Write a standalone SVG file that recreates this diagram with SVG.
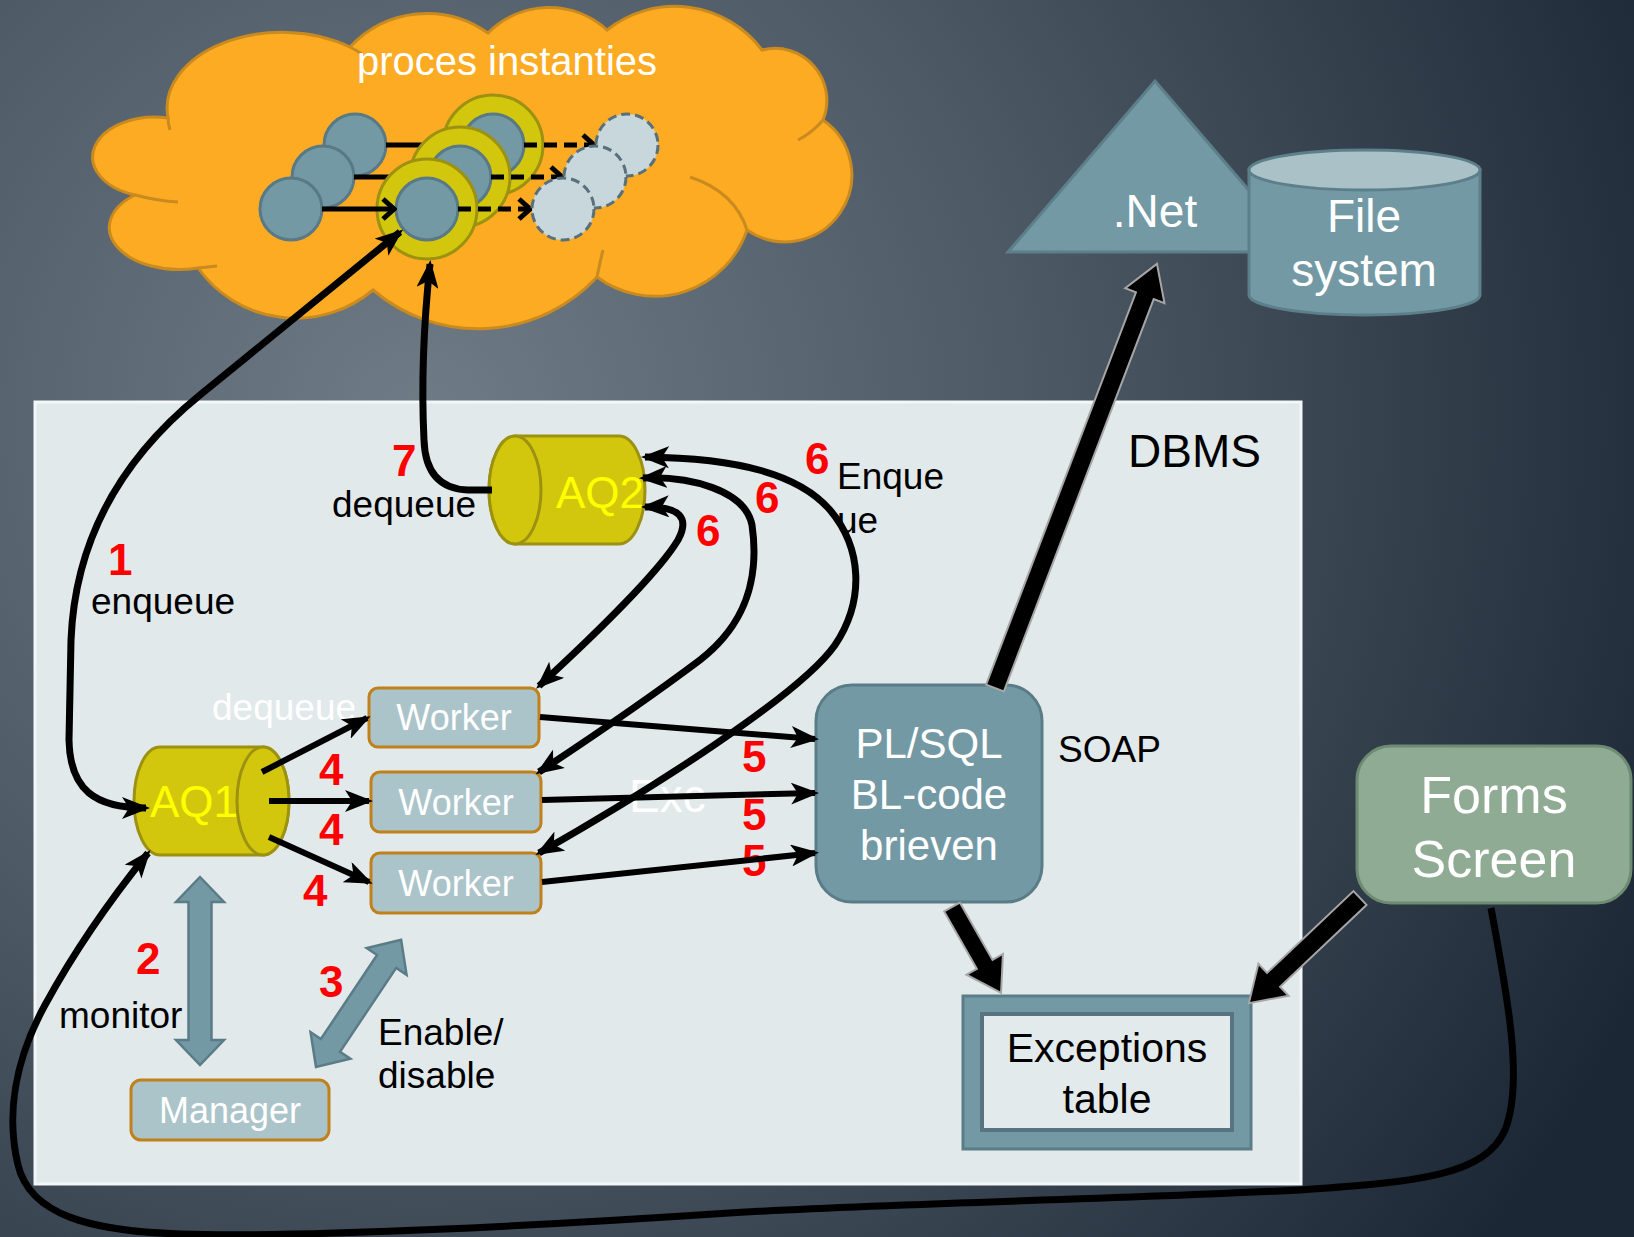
<svg xmlns="http://www.w3.org/2000/svg" width="1634" height="1237" viewBox="0 0 1634 1237">
<defs>
<radialGradient id="bg" cx="420" cy="420" r="1350" gradientUnits="userSpaceOnUse">
<stop offset="0" stop-color="#6f7b85"/>
<stop offset="0.45" stop-color="#4d5965"/>
<stop offset="1" stop-color="#1b2734"/>
</radialGradient>
<marker id="ah" viewBox="0 0 28 22" markerWidth="28" markerHeight="22" refX="24" refY="11" orient="auto-start-reverse" markerUnits="userSpaceOnUse">
<path d="M0,0 L28,11 L0,22 L7,11 z" fill="#000"/>
</marker>
<marker id="chev" viewBox="0 0 16 24" markerWidth="16" markerHeight="24" refX="13" refY="12" orient="auto" markerUnits="userSpaceOnUse">
<path d="M2,2 L13,12 L2,22" fill="none" stroke="#000" stroke-width="5"/>
</marker>
</defs>
<style>
text{font-family:"Liberation Sans",Arial,sans-serif}
.lbl{font-size:37px;fill:#000}
.num{font-size:44px;font-weight:bold;fill:#f00}
.wh{fill:#fff}
.cyl{fill:#d2c70c;stroke:#9c9110;stroke-width:3}
.aq{font-size:44px;fill:#ffff00}
.box{fill:#abc4ca;stroke:#c0801a;stroke-width:3}
.btx{font-size:36px;fill:#fff}
.teal{fill:#7399a5;stroke:#5a7c87;stroke-width:3}
.ln{fill:none;stroke:#000;stroke-width:6}
.cv{fill:none;stroke:#000;stroke-width:7}
.fat{fill:#000;stroke:#a6a6a6;stroke-width:2}
.dbl{fill:#7399a5;stroke:#5a7c87;stroke-width:2.5}
.pc{fill:#7399a5;stroke:#587985;stroke-width:3}
.ring{fill:#d2c70c;stroke:#9c9110;stroke-width:3}
.ghost{fill:#c7d7dc;stroke:#58707c;stroke-width:3;stroke-dasharray:9,5}
.sl{fill:none;stroke:#000;stroke-width:5}
.dash{fill:none;stroke:#000;stroke-width:5;stroke-dasharray:13,7}
</style>
<rect x="0" y="0" width="1634" height="1237" fill="url(#bg)"/>

<g id="cloud">
<path d="M168,118 A115,76 0 0 1 350,47 A105,105 0 0 1 488,33 A86,86 0 0 1 607,30 A109,109 0 0 1 762,50 A52,52 0 0 1 823,120 A64,64 0 0 1 747,230 A97,97 0 0 1 597,277 A162,162 0 0 1 373,290 A120,120 0 0 1 198,268 A70,42 0 0 1 135,195 A62,40 0 0 1 168,118 Z" fill="#fdab22" stroke="#c98a1f" stroke-width="3"/>
<path d="M690,177 Q735,192 747,230 M135,195 Q158,201 178,202 M198,268 Q208,267 217,266 M597,277 Q600,262 603,250 M350,47 Q356,50 362,54 M168,118 Q168,123 170,130 M823,120 Q812,133 798,140" fill="none" stroke="#c98a1f" stroke-width="3"/>
<text x="507" y="75" text-anchor="middle" class="wh" font-size="40">proces instanties</text>
</g>

<g id="instances">
<circle class="pc" cx="355" cy="145" r="31"/>
<line class="sl" x1="386" y1="145" x2="450" y2="145"/>
<circle class="ring" cx="493" cy="145" r="50"/>
<circle class="pc" cx="493" cy="145" r="31"/>
<line class="dash" x1="524" y1="145" x2="594" y2="145" marker-end="url(#chev)"/>
<circle class="ghost" cx="627" cy="145" r="31"/>

<circle class="pc" cx="323" cy="177" r="31"/>
<line class="sl" x1="354" y1="177" x2="420" y2="177"/>
<circle class="ring" cx="460" cy="177" r="50"/>
<circle class="pc" cx="460" cy="177" r="31"/>
<line class="dash" x1="491" y1="177" x2="562" y2="177" marker-end="url(#chev)"/>
<circle class="ghost" cx="595" cy="177" r="31"/>

<circle class="pc" cx="291" cy="209" r="31"/>
<circle class="ring" cx="427" cy="209" r="50"/>
<circle class="pc" cx="427" cy="209" r="31"/>
<line class="sl" x1="322" y1="209" x2="394" y2="209" marker-end="url(#chev)"/>
<line class="dash" x1="458" y1="209" x2="530" y2="209" marker-end="url(#chev)"/>
<circle class="ghost" cx="563" cy="209" r="31"/>
</g>

<g id="dotnet">
<polygon points="1155,81 1302,252 1008,252" fill="#7399a5" stroke="#5c7f8a" stroke-width="3"/>
<text x="1155" y="227" text-anchor="middle" class="wh" font-size="46">.Net</text>
</g>

<g id="filesystem">
<path d="M1249,170 V295 A115.5,20 0 0 0 1480,295 V170 Z" fill="#7399a5" stroke="#5c7f8a" stroke-width="3"/>
<ellipse cx="1364.5" cy="170" rx="115.5" ry="20" fill="#a9c1c7" stroke="#5c7f8a" stroke-width="3"/>
<text x="1364" y="232" text-anchor="middle" class="wh" font-size="46">File</text>
<text x="1364" y="286" text-anchor="middle" class="wh" font-size="46">system</text>
</g>

<g id="dbms">
<rect x="35" y="402" width="1266" height="782" fill="#e2e9eb" stroke="#f4f7f8" stroke-width="3"/>
<text x="1128" y="467" font-size="46" fill="#000">DBMS</text>
</g>

<g id="aq2">
<path class="cyl" d="M515,436 H619 A26,54 0 0 1 619,544 H515 A26,54 0 0 1 515,436 Z"/>
<ellipse class="cyl" cx="515" cy="490" rx="26" ry="54"/>
<text x="600" y="508" text-anchor="middle" class="aq">AQ2</text>
</g>

<g id="aq1">
<path class="cyl" d="M160,747 H263 A26,54 0 0 1 263,855 H160 A26,54 0 0 1 160,747 Z"/>
<ellipse class="cyl" cx="263" cy="801" rx="26" ry="54"/>
<text x="194" y="817" text-anchor="middle" class="aq">AQ1</text>
</g>

<g id="worker1">
<rect class="box" x="369" y="688" width="170" height="59" rx="9"/>
<text x="454" y="730" text-anchor="middle" class="btx">Worker</text>
</g>
<g id="worker2">
<rect class="box" x="371" y="772" width="170" height="60" rx="9"/>
<text x="456" y="815" text-anchor="middle" class="btx">Worker</text>
</g>
<g id="worker3">
<rect class="box" x="371" y="853" width="170" height="60" rx="9"/>
<text x="456" y="896" text-anchor="middle" class="btx">Worker</text>
</g>

<g id="manager">
<rect class="box" x="131" y="1080" width="198" height="60" rx="10"/>
<text x="230" y="1123" text-anchor="middle" class="btx" font-size="37">Manager</text>
</g>

<g id="plsql">
<rect class="teal" x="816" y="685" width="226" height="217" rx="36"/>
<text x="929" y="758" text-anchor="middle" class="wh" font-size="42">PL/SQL</text>
<text x="929" y="809" text-anchor="middle" class="wh" font-size="42">BL-code</text>
<text x="929" y="860" text-anchor="middle" class="wh" font-size="42">brieven</text>
</g>

<g id="exceptions">
<rect x="963" y="996" width="288" height="153" fill="#7399a5" stroke="#5b7d88" stroke-width="3"/>
<rect x="982" y="1014" width="250" height="116" fill="#e3eaec" stroke="#577480" stroke-width="4"/>
<text x="1107" y="1062" text-anchor="middle" font-size="41" fill="#000">Exceptions</text>
<text x="1107" y="1113" text-anchor="middle" font-size="41" fill="#000">table</text>
</g>

<g id="forms">
<rect x="1357" y="746" width="274" height="157" rx="34" fill="#8fab93" stroke="#6d8a72" stroke-width="3"/>
<text x="1494" y="813" text-anchor="middle" class="wh" font-size="52">Forms</text>
<text x="1494" y="877" text-anchor="middle" class="wh" font-size="52">Screen</text>
</g>

<g id="labels">
<text class="num" x="108" y="575">1</text>
<text class="lbl" x="91" y="614">enqueue</text>
<text class="num" x="392" y="476">7</text>
<text class="lbl" x="332" y="517">dequeue</text>
<text class="num" x="805" y="474">6</text>
<text class="num" x="755" y="513">6</text>
<text class="num" x="696" y="546">6</text>
<text class="lbl" x="837" y="489">Enque</text>
<text class="lbl" x="837" y="533">ue</text>
<text class="wh" x="212" y="720" font-size="37">dequeue</text>
<text class="wh" x="629" y="812" font-size="46">Exc</text>
<text class="num" x="319" y="785">4</text>
<text class="num" x="319" y="845">4</text>
<text class="num" x="303" y="906">4</text>
<text class="num" x="742" y="772">5</text>
<text class="num" x="742" y="830">5</text>
<text class="num" x="742" y="876">5</text>
<text class="lbl" x="1058" y="762" font-size="36">SOAP</text>
<text class="num" x="136" y="974">2</text>
<text class="lbl" x="59" y="1028">monitor</text>
<text class="num" x="319" y="997">3</text>
<text class="lbl" x="378" y="1045">Enable/</text>
<text class="lbl" x="378" y="1088">disable</text>
</g>

<g id="connectors">
<path class="cv" d="M400,232 L200,395 C120,460 75,540 71,640 L69,740 C70,790 95,808 146,808" marker-start="url(#ah)" marker-end="url(#ah)"/>
<path class="cv" d="M492,490 L468,490 C438,489 425,470 424,440 C422,400 422,340 430,264" marker-end="url(#ah)"/>
<path class="cv" d="M645,507 C680,506 690,518 678,540 C660,570 600,630 539,686" marker-start="url(#ah)" marker-end="url(#ah)"/>
<path class="cv" d="M643,478 C690,476 745,490 752,525 C760,580 745,625 700,660 C640,705 580,745 539,772" marker-start="url(#ah)" marker-end="url(#ah)"/>
<path class="cv" d="M645,457 C740,458 800,475 830,510 C862,548 865,600 835,645 C800,695 650,790 539,853" marker-start="url(#ah)" marker-end="url(#ah)"/>
<line class="ln" x1="262" y1="772" x2="367" y2="718" marker-end="url(#ah)"/>
<line class="ln" x1="269" y1="801" x2="369" y2="801" marker-end="url(#ah)"/>
<line class="ln" x1="269" y1="837" x2="369" y2="882" marker-end="url(#ah)"/>
<line class="ln" x1="540" y1="717" x2="815" y2="739" marker-end="url(#ah)"/>
<line class="ln" x1="542" y1="800" x2="815" y2="793" marker-end="url(#ah)"/>
<line class="ln" x1="542" y1="882" x2="815" y2="853" marker-end="url(#ah)"/>
<path class="cv" d="M1491,908 C1505,985 1525,1080 1505,1130 C1485,1175 1420,1182 1300,1190 C1100,1200 900,1203 729,1213 C550,1225 300,1238 180,1234 C90,1231 30,1215 18,1165 C6,1115 15,1060 45,1005 C75,950 110,900 148,853" marker-end="url(#ah)"/>
<polygon class="fat" transform="translate(995,688) rotate(-69.1)" points="0,-9.5 420,-9.5 420,-21 454,0 420,21 420,9.5 0,9.5"/>
<polygon class="fat" transform="translate(952,907) rotate(60.3)" points="0,-9 66,-9 66,-21 99,0 66,21 66,9 0,9"/>
<polygon class="fat" transform="translate(1360,898) rotate(136.6)" points="0,-9.5 119,-9.5 119,-22 153,0 119,22 119,9.5 0,9.5"/>
<polygon class="dbl" points="200,877 224,902 211.5,902 211.5,1040 224,1040 200,1065 176,1040 188.5,1040 188.5,902 176,902"/>
<polygon class="dbl" transform="translate(316,1067) rotate(-56.2)" points="0,0 26,-24 26,-11.5 127,-11.5 127,-24 153,0 127,24 127,11.5 26,11.5 26,24"/>
</g>
</svg>
